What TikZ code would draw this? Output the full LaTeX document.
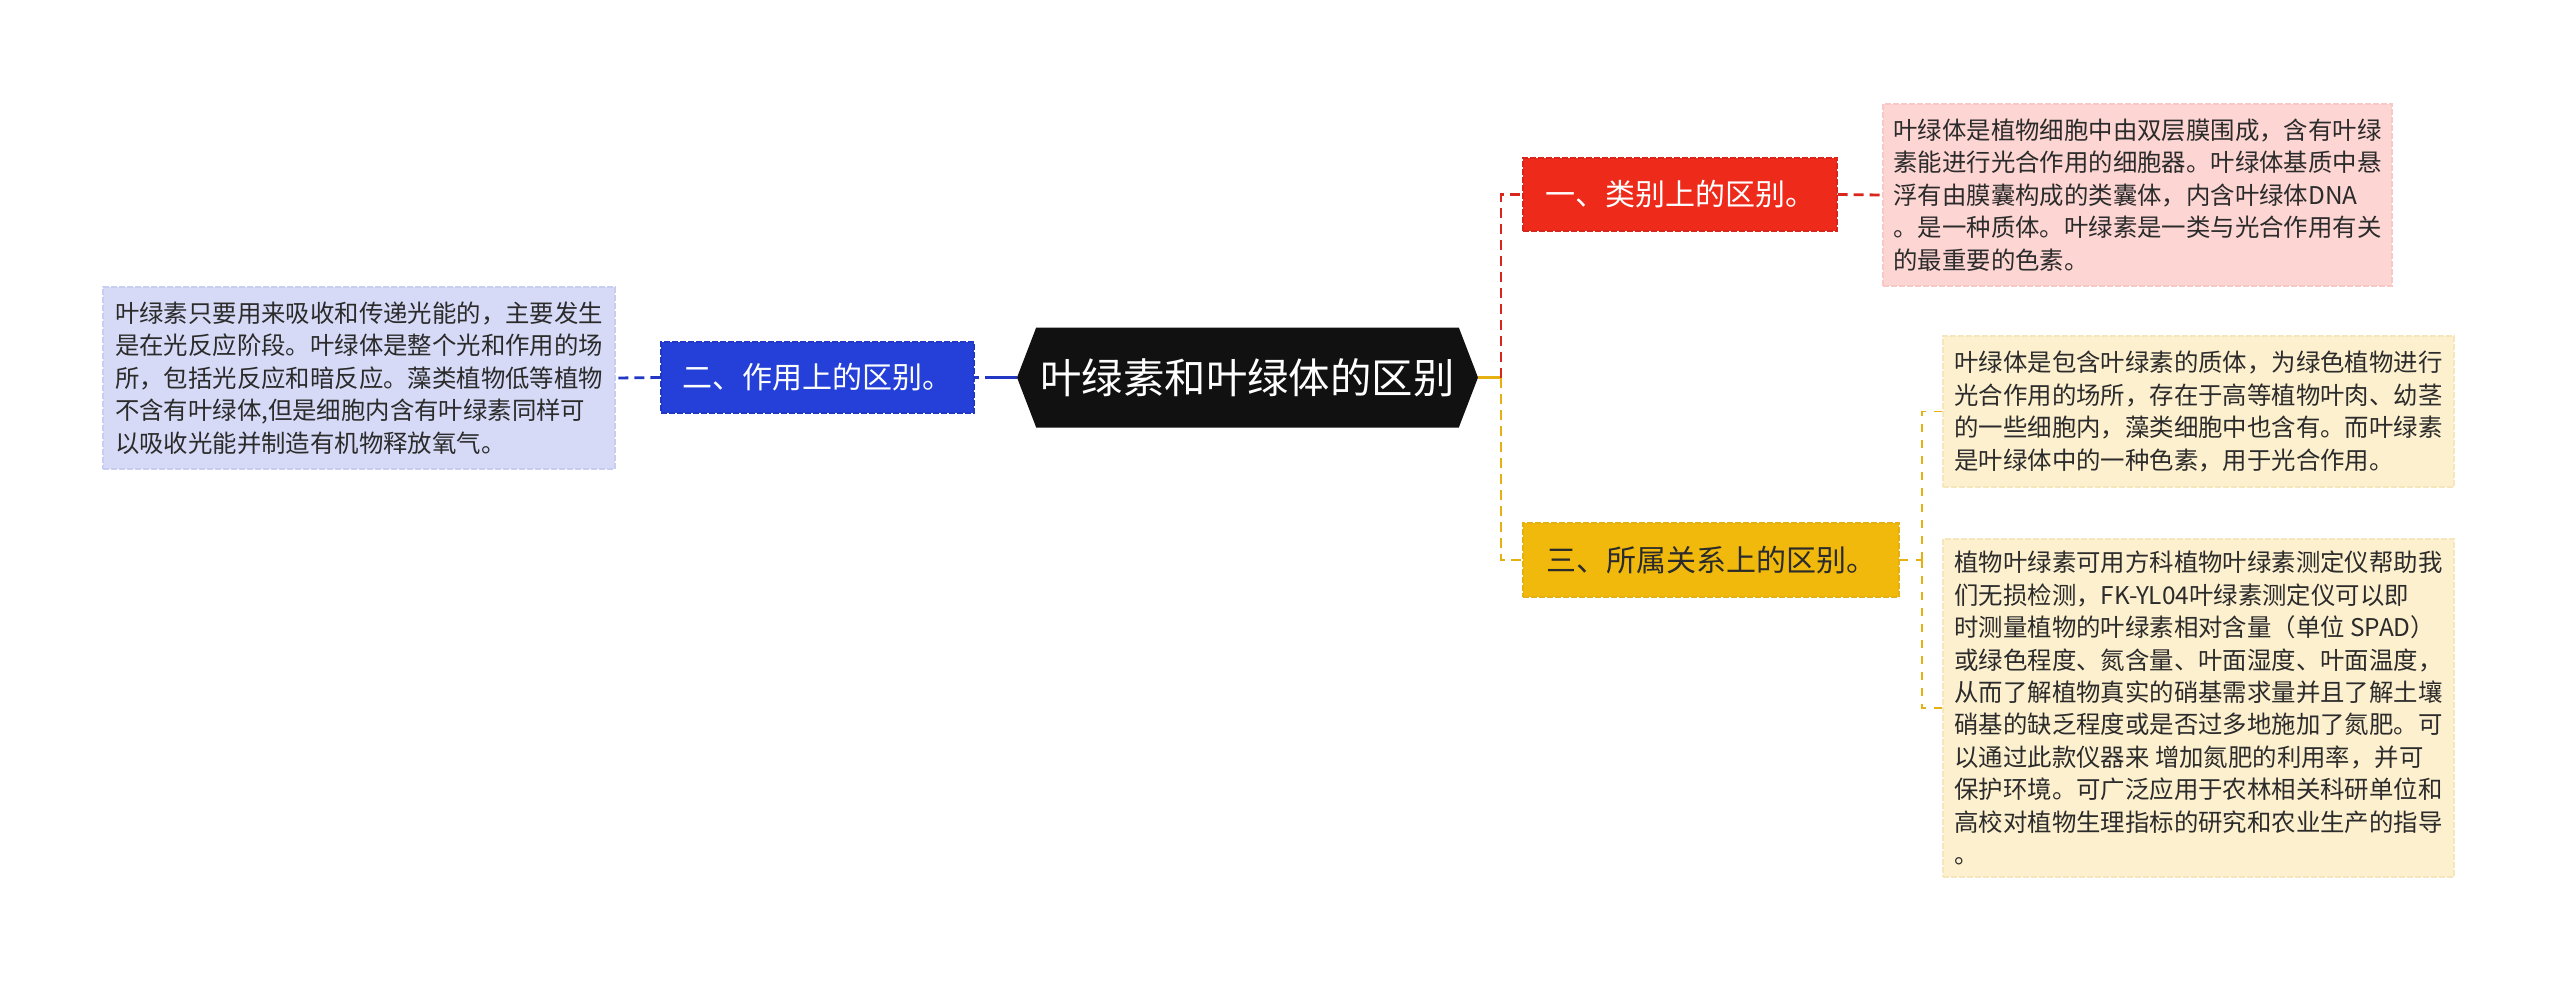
\documentclass[tikz,border=0pt]{standalone}
\usepackage{fontspec}
\usetikzlibrary{shapes.symbols}
\newfontfamily\cjk{Noto Sans CJK SC}
\definecolor{rootfill}{HTML}{111111}
\definecolor{redfill}{HTML}{EE2A1B}
\definecolor{redline}{HTML}{D8261C}
\definecolor{rednote}{HTML}{FDD6D4}
\definecolor{rednoteline}{HTML}{F7C8C5}
\definecolor{bluefill}{HTML}{2440D8}
\definecolor{blueline}{HTML}{2238C4}
\definecolor{bluenote}{HTML}{D6DAF6}
\definecolor{bluenoteline}{HTML}{C8CEF2}
\definecolor{yelfill}{HTML}{F0B90C}
\definecolor{yelline}{HTML}{E5B012}
\definecolor{yelnote}{HTML}{FDF0CF}
\definecolor{yelnoteline}{HTML}{F6E6BC}
\definecolor{textgray}{HTML}{2B2B2B}

\begin{document}
\begin{tikzpicture}[x=0.5pt,y=-0.5pt,
  topic/.style={signal,signal to=west and east,signal pointer angle=138,fill=rootfill,text=white,font=\cjk\fontsize{20.7}{24}\selectfont,minimum width=230.5pt,minimum height=50pt,inner sep=0pt},
  branch/.style={draw,dash pattern=on 3pt off 1pt,line width=0.6pt,font=\cjk\fontsize{15}{18}\selectfont,inner sep=0pt},
  note/.style={draw,dash pattern=on 3pt off 1pt,line width=0.6pt,font=\cjk\fontsize{12.2}{16.2}\selectfont,align=left,text=textgray,inner sep=0pt},
  link/.style={line width=1.4pt,dash pattern=on 5pt off 3pt},
  leaflink/.style={line width=0.9pt,dash pattern=on 4pt off 4pt}]
  \useasboundingbox (0,0) rectangle (2560,981);
  \node[topic] (root) at (1247.5,377.5) {叶绿素和叶绿体的区别};
  \node[branch,fill=bluefill,draw=blueline,text=white,minimum width=156.5pt,minimum height=35.5pt] (use) at (817.5,377.5) {二、作用上的区别。};
  \node[note,fill=bluenote,draw=bluenoteline,minimum width=256pt,minimum height=91pt] (usenote) at (359,378) {叶绿素只要用来吸收和传递光能的，主要发生\\是在光反应阶段。叶绿体是整个光和作用的场\\所，包括光反应和暗反应。藻类植物低等植物\\不含有叶绿体,但是细胞内含有叶绿素同样可\\以吸收光能并制造有机物释放氧气。};
  \node[branch,fill=redfill,draw=redline,text=white,minimum width=157pt,minimum height=36.5pt] (kind) at (1680,194.5) {一、类别上的区别。};
  \node[note,fill=rednote,draw=rednoteline,minimum width=254.5pt,minimum height=91pt] (kindnote) at (2137.5,195) {叶绿体是植物细胞中由双层膜围成，含有叶绿\\素能进行光合作用的细胞器。叶绿体基质中悬\\浮有由膜囊构成的类囊体，内含叶绿体DNA\\。是一种质体。叶绿素是一类与光合作用有关\\的最重要的色素。};
  \node[branch,fill=yelfill,draw=yelline,text=textgray,minimum width=188pt,minimum height=37pt] (rel) at (1711,560) {三、所属关系上的区别。};
  \node[note,fill=yelnote,draw=yelnoteline,minimum width=255.5pt,minimum height=75.5pt] (relnote1) at (2198.5,411.5) {叶绿体是包含叶绿素的质体，为绿色植物进行\\光合作用的场所，存在于高等植物叶肉、幼茎\\的一些细胞内，藻类细胞中也含有。而叶绿素\\是叶绿体中的一种色素，用于光合作用。};
  \node[note,fill=yelnote,draw=yelnoteline,minimum width=255.5pt,minimum height=169pt] (relnote2) at (2198.5,708) {植物叶绿素可用方科植物叶绿素测定仪帮助我\\们无损检测，FK-YL04叶绿素测定仪可以即\\时测量植物的叶绿素相对含量（单位 SPAD）\\或绿色程度、氮含量、叶面湿度、叶面温度，\\从而了解植物真实的硝基需求量并且了解土壤\\硝基的缺乏程度或是否过多地施加了氮肥。可\\以通过此款仪器来 增加氮肥的利用率，并可\\保护环境。可广泛应用于农林相关科研单位和\\高校对植物生理指标的研究和农业生产的指导\\。};
  \coordinate (hub) at (1501,377.5);
  \coordinate (relhub) at (1922,560);
  \draw[line width=1.4pt,yelline] (root.east) -- (hub);
  \draw[link,redline] (hub) |- (kind.west);
  \draw[link,yelline] (hub) |- (rel.west);
  \draw[link,redline] (kind.east) -- (kindnote.west);
  \draw[line width=1.4pt,blueline,dash pattern=on 16pt off 3pt] (root.west) -- (use.east);
  \draw[link,blueline] (use.west) -- (usenote.east);
  \draw[leaflink,yelline] (rel.east) -- (relhub);
  \draw[leaflink,yelline] (relhub) |- (relnote1.west);
  \draw[leaflink,yelline] (relhub) |- (relnote2.west);
\end{tikzpicture}
\end{document}
